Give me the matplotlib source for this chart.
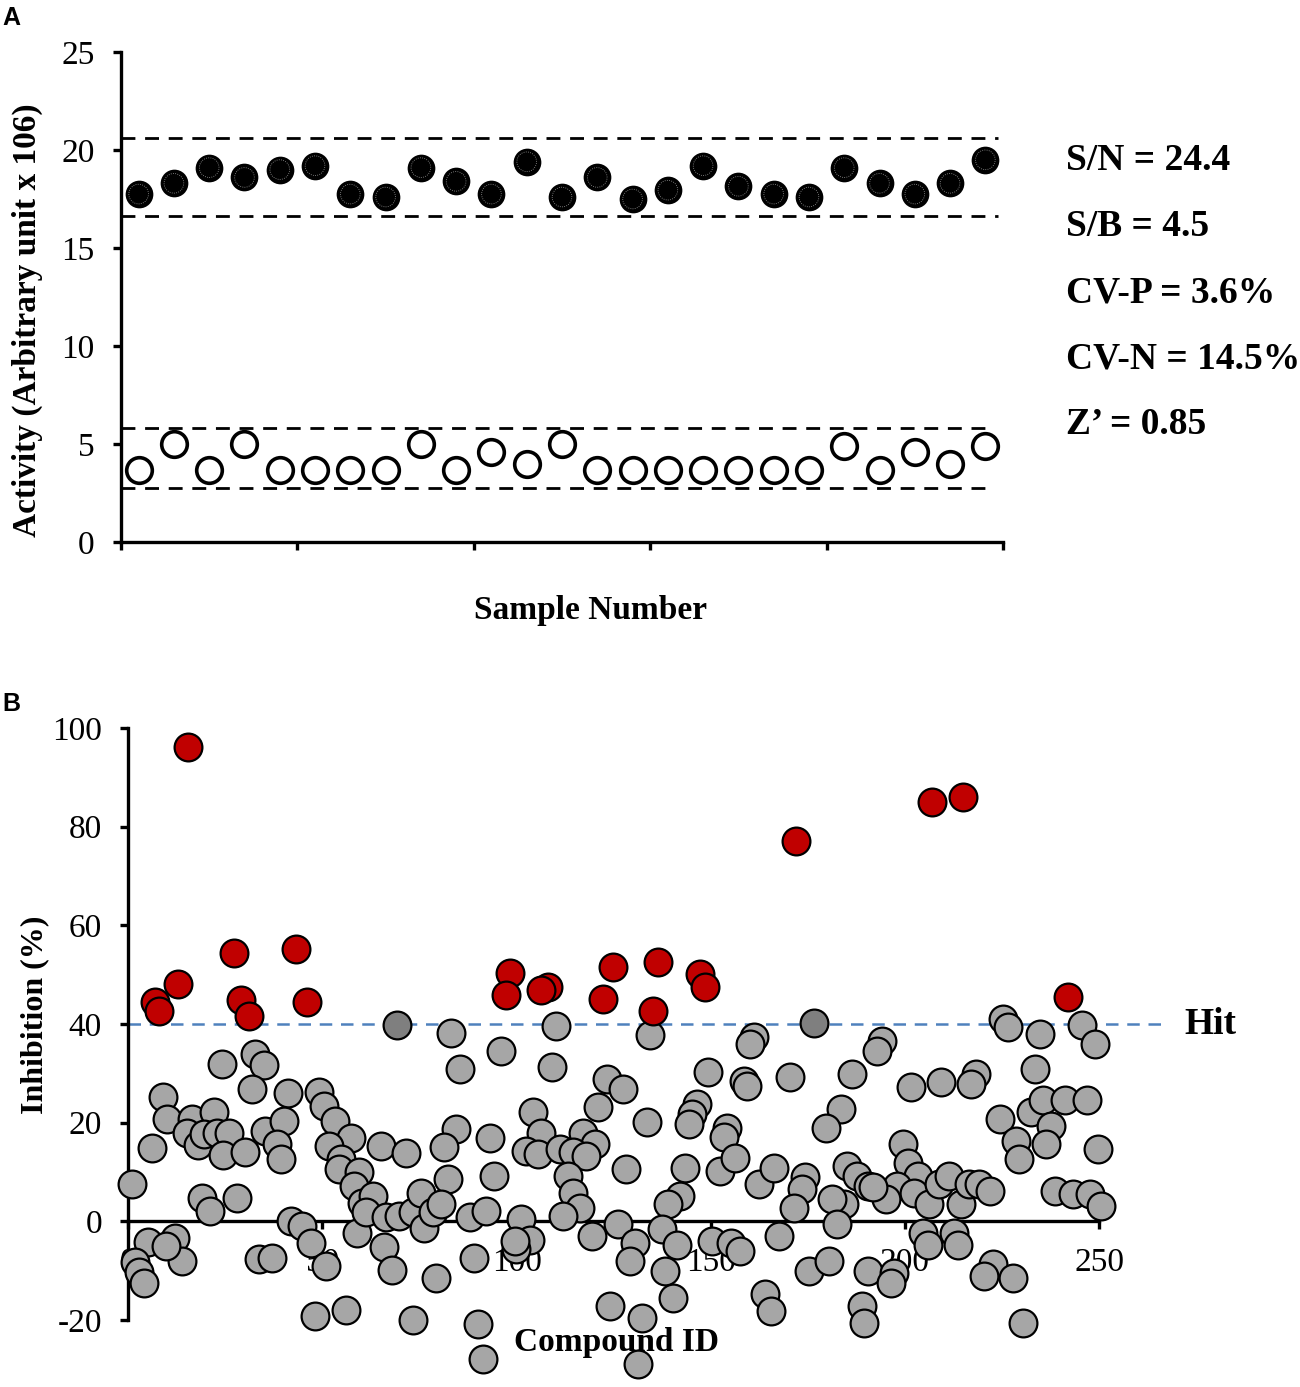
import numpy as np
import matplotlib.pyplot as plt

plt.rcParams['font.family'] = ['Liberation Serif', 'DejaVu Serif']
plt.rcParams['axes.unicode_minus'] = False

# ---- panel A data: positive / negative controls ----
sample_no = np.arange(25) + 0.5
pos_ctrl = [17.75, 18.3, 19.1, 18.6, 19.0, 19.2, 17.75, 17.6, 19.1, 18.4, 17.75, 19.4, 17.6,
            18.6, 17.5, 17.95, 19.2, 18.15, 17.75, 17.6, 19.1, 18.3, 17.75, 18.3, 19.5]
neg_ctrl = [3.65, 5.0, 3.65, 5.0, 3.65, 3.65, 3.65, 3.65, 5.0, 3.65, 4.6, 4.0, 5.0,
            3.65, 3.65, 3.65, 3.65, 3.65, 3.65, 3.65, 4.9, 3.65, 4.6, 4.0, 4.9]
pos_limits = [20.6, 16.65]
neg_limits = [5.8, 2.75]
stats = ["S/N = 24.4", "S/B = 4.5", "CV-P = 3.6%", "CV-N = 14.5%", "Z\u2019 = 0.85"]

# ---- panel B data: compound screen ----
grey_pts = [
    (0.9, 7.5), (6.0, 14.8), (9.0, 25.3), (9.9, 20.7), (24.1, 31.9), (32.7, 33.9), (34.9, 31.6),
    (31.9, 26.8), (41.2, 26.0), (49.1, 26.2), (50.4, 23.4), (53.2, 20.4), (57.3, 16.8), (16.4, 20.7),
    (22.0, 22.1), (15.1, 18.0), (17.9, 15.4), (19.4, 17.7), (22.8, 18.0), (26.0, 18.0), (24.5, 13.4),
    (30.1, 14.0), (35.3, 18.4), (40.0, 20.4), (38.3, 15.6), (39.2, 12.6), (51.7, 15.3), (54.7, 12.6),
    (54.3, 10.6), (59.4, 9.9), (58.1, 7.2), (60.3, 3.8), (18.9, 4.8), (21.1, 2.1), (28.0, 4.8),
    (41.8, 0.0), (44.8, -1.0), (47.0, -4.3), (50.8, -9.1), (59.0, -2.3), (5.0, -4.2), (12.1, -3.3),
    (13.8, -8.1), (1.8, -8.3), (2.8, -10.2), (4.1, -12.6), (9.6, -5.0), (33.6, -7.7), (37.0, -7.4),
    (48.2, -19.1), (56.0, -18.0),
    (83.1, 38.2), (85.3, 30.8), (96.0, 34.6), (110.2, 39.6), (109.2, 31.2), (123.2, 28.9),
    (121.0, 23.1), (104.2, 22.1), (106.4, 18.0), (102.5, 14.3), (105.5, 13.6), (111.1, 14.6),
    (117.1, 18.0), (120.2, 15.6), (114.6, 14.0), (118.0, 13.3), (113.3, 9.2), (114.6, 5.8),
    (116.3, 2.8), (112.0, 1.1), (119.3, -3.0), (84.4, 18.7), (81.4, 15.0), (82.3, 8.5), (93.2, 16.8),
    (94.3, 9.2), (65.0, 15.3), (71.5, 13.8), (62.9, 5.1), (61.2, 1.8), (66.3, 0.8), (69.8, 1.1),
    (73.2, 1.8), (75.4, 5.8), (76.2, -1.3), (78.4, 1.8), (80.5, 3.5), (87.9, 0.8), (92.2, 2.1),
    (101.2, 0.4), (103.4, -3.7), (99.9, -5.7), (99.5, -4.0), (89.1, -7.4), (65.9, -5.3), (68.0, -9.8),
    (79.3, -11.4), (73.2, -19.9), (90.0, -20.9), (91.3, -28.0), (124.0, -17.2),
    (134.4, 37.7), (161.1, 37.3), (160.2, 36.0), (149.4, 30.2), (158.5, 28.5), (159.3, 27.5),
    (170.5, 29.2), (186.5, 29.9), (127.5, 26.8), (133.5, 20.1), (146.4, 23.8), (145.1, 21.7),
    (144.3, 19.7), (154.2, 19.0), (153.3, 17.0), (183.5, 22.8), (179.6, 19.0), (128.3, 10.6),
    (143.4, 10.9), (152.5, 10.2), (156.3, 12.9), (162.4, 7.5), (166.2, 10.9), (174.4, 8.9),
    (173.5, 6.5), (171.4, 2.8), (185.2, 11.2), (187.8, 9.2), (190.4, 7.2), (142.1, 5.1), (139.1, 3.5),
    (184.3, 3.5), (181.3, 4.5), (182.6, -0.6), (167.5, -3.0), (126.2, -0.6), (137.4, -1.6),
    (130.5, -4.3), (141.3, -4.7), (129.2, -8.1), (138.2, -10.1), (150.3, -4.0), (155.3, -4.3),
    (157.6, -6.0), (175.3, -10.1), (180.4, -8.1), (164.1, -14.8), (165.4, -18.2), (140.4, -15.5),
    (132.2, -19.6), (131.4, -29.0), (190.4, -10.1), (189.0, -17.2), (189.5, -20.6),
    (194.2, 36.6), (192.9, 34.6), (201.6, 27.2), (209.3, 28.3), (218.3, 29.9), (217.1, 27.8),
    (225.2, 41.1), (226.5, 39.4), (234.7, 38.0), (245.5, 39.7), (248.9, 36.0), (233.4, 30.9),
    (224.4, 20.7), (232.6, 22.1), (235.6, 24.5), (241.3, 24.5), (246.8, 24.5), (237.7, 19.4),
    (236.4, 15.6), (228.7, 16.3), (229.5, 12.6), (249.8, 14.6), (238.6, 6.2), (243.3, 5.5),
    (247.6, 5.5), (250.6, 3.1), (199.4, 15.6), (200.7, 11.9), (203.3, 9.2), (198.1, 7.2),
    (195.1, 4.5), (191.7, 6.9), (202.4, 5.8), (206.3, 3.5), (208.9, 7.5), (211.4, 9.2), (214.5, 3.5),
    (216.6, 7.5), (219.2, 7.5), (221.8, 6.2), (204.6, -2.3), (205.9, -4.7), (212.7, -2.3),
    (213.6, -4.7), (197.3, -10.4), (196.4, -12.5), (222.6, -8.7), (220.3, -11.1), (227.8, -11.4),
    (230.4, -20.6),
]
borderline_pts = [(69.1, 39.7), (176.5, 40.3)]
hit_pts = [
    (15.5, 96.1), (6.9, 44.4), (7.8, 42.7), (12.9, 48.2), (27.1, 54.3), (29.0, 44.8), (31.0, 41.7),
    (43.1, 55.3), (46.1, 44.4), (98.2, 50.4), (97.3, 45.8), (108.1, 47.5), (106.4, 46.8),
    (124.9, 51.6), (122.3, 45.1), (136.5, 52.6), (147.3, 50.2), (148.6, 47.5), (135.2, 42.7),
    (172.0, 77.0), (207.0, 85.0), (215.0, 86.0), (242.0, 45.5),
]
hit_cutoff = 40

W, H = 1300, 1387
fig = plt.figure(figsize=(W / 100, H / 100), dpi=100)

def fx(px):
    return px / W

def fy(py):
    return 1 - py / H

# ================= panel A =================
axA = fig.add_axes([fx(121), fy(542), fx(1003) - fx(121), fy(52) - fy(542)])
axA.hlines(pos_limits, 0, 24.85, colors='black', linestyles=(0, (5, 3.5)), lw=2)
axA.hlines(neg_limits, 0, 24.7, colors='black', linestyles=(0, (5, 3.5)), lw=2)
axA.scatter(sample_no, pos_ctrl, s=340, c='black', edgecolors='black', linewidths=1.5, zorder=3)
axA.scatter(sample_no, pos_ctrl, s=200, facecolors='none', edgecolors='#9a9a9a',
            linewidths=0.6, linestyle=':', zorder=4)
axA.scatter(sample_no, neg_ctrl, s=340, facecolors='white', edgecolors='black', linewidths=2.6, zorder=3)
axA.set_xlim(0, 25)
axA.set_ylim(0, 25)
axA.set_xticks(np.arange(0, 26, 5))
axA.set_xticklabels([])
axA.set_yticks(np.arange(0, 26, 5))
for side in ['top', 'right']:
    axA.spines[side].set_visible(False)
for side in ['left', 'bottom']:
    axA.spines[side].set_linewidth(2.4)
axA.tick_params(axis='both', direction='out', length=6, width=2.4, labelsize=24)
axA.tick_params(axis='y', pad=13)

fig.text(fx(27), fy(320), "Activity (Arbitrary unit x 106)", rotation=90, ha='center', va='center',
         fontsize=24, fontweight='bold')
fig.text(fx(590), fy(610), "Sample Number", ha='center', va='center', fontsize=24, fontweight='bold')
for i, s in enumerate(stats):
    fig.text(fx(1066), fy(161 + i * 66), s, ha='left', va='center', fontsize=27, fontweight='bold')

# ================= panel B =================
axB = fig.add_axes([fx(128.3), fy(1320), fx(1099) - fx(128.3), fy(728) - fy(1320)])
gx, gy = zip(*grey_pts)
bx, by = zip(*borderline_pts)
hx, hy = zip(*hit_pts)
axB.plot([0, 267], [hit_cutoff, hit_cutoff], color='#4f81bd', lw=1.8, ls=(0, (5, 3.5)),
         clip_on=False, zorder=2)
axB.scatter(gx, gy, s=400, c='#a6a6a6', edgecolors='black', linewidths=1.6, zorder=3, clip_on=False)
axB.scatter(bx, by, s=400, c='#7f7f7f', edgecolors='black', linewidths=1.6, zorder=3, clip_on=False)
axB.scatter(hx, hy, s=400, c='#c00000', edgecolors='black', linewidths=1.6, zorder=4, clip_on=False)
axB.text(272, hit_cutoff, "Hit", ha='left', va='center', fontsize=27, fontweight='bold')
axB.set_xlim(0, 250)
axB.set_ylim(-20, 100)
axB.set_xticks(np.arange(0, 251, 50))
axB.set_yticks(np.arange(-20, 101, 20))
axB.spines['bottom'].set_position(('data', 0))
for side in ['top', 'right']:
    axB.spines[side].set_visible(False)
for side in ['left', 'bottom']:
    axB.spines[side].set_linewidth(2.4)
axB.tick_params(axis='both', direction='out', length=6, width=2.4, labelsize=24)
axB.tick_params(axis='x', pad=13)
axB.tick_params(axis='y', pad=13)

fig.text(fx(35), fy(1015), "Inhibition (%)", rotation=90, ha='center', va='center',
         fontsize=23, fontweight='bold')
fig.text(fx(617), fy(1342), "Compound ID", ha='center', va='center', fontsize=24,
         fontweight='bold', zorder=1)

# panel letters
fig.text(fx(2), fy(18), "A", ha='left', va='center', fontsize=18, fontweight='bold',
         family=['Liberation Sans', 'DejaVu Sans'])
fig.text(fx(2), fy(704), "B", ha='left', va='center', fontsize=18, fontweight='bold',
         family=['Liberation Sans', 'DejaVu Sans'])

fig.savefig("out.png", dpi=100)
